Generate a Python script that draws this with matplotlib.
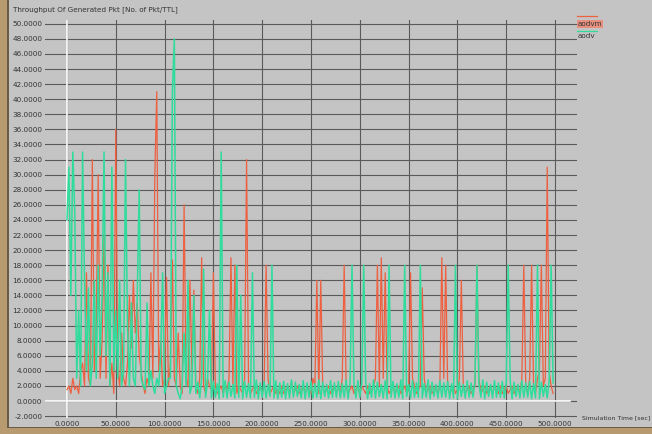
import numpy as np
from matplotlib import pyplot as plt
from matplotlib.patches import Rectangle

# 仿真时间每隔 2 秒一个采样点
step = 2.0
y_ticks = [-2, 0, 2, 4, 6, 8, 10, 12, 14, 16, 18, 20, 22, 24, 26, 28, 30,
           32, 34, 36, 38, 40, 42, 44, 46, 48, 50]
x_ticks = [0, 50, 100, 150, 200, 250, 300, 350, 400, 450, 500]

# aodv (绿色)
aodv = [
    24, 31, 14, 33, 25, 3, 12, 2, 33, 16,
    4, 15, 2, 5, 16, 3, 18, 6, 14, 33,
    6, 17, 2, 31, 4, 12, 3, 16, 2, 4,
    32, 10, 2, 13, 3, 2, 14, 28, 3, 2,
    1.5, 13, 2, 4, 2, 1, 3, 2, 6, 17,
    1, 2, 3, 3, 41, 48, 2, 1, 0.3, 2,
    9, 2, 16, 1, 2, 14, 1, 2.5, 0.4, 3,
    17.5, 0.5, 2.4, 12, 0.4, 2.6, 0.5, 2.3, 0.3, 33,
    0.5, 2.7, 0.4, 2.5, 0.6, 2.2, 0.4, 18, 0.5, 14,
    0.3, 2.6, 0.5, 2.3, 0.4, 17, 0.5, 2.8, 0.3, 2.4,
    0.5, 2.6, 0.4, 2.2, 0.6, 18, 0.4, 2.7, 0.3, 2.4,
    0.5, 2.6, 0.3, 2.3, 0.4, 2.8, 0.5, 2.5, 0.6, 2.2,
    0.4, 2.7, 0.3, 2.4, 0.5, 2.6, 0.4, 2.3, 0.5, 2.8,
    0.3, 2.5, 0.6, 2.2, 0.4, 2.7, 0.5, 2.4, 0.5, 2.6,
    0.4, 2.3, 0.5, 2.8, 0.3, 2.5, 18, 2.2, 0.4, 2.7,
    0.5, 2.4, 18, 2.6, 0.3, 2.3, 0.5, 2.8, 0.4, 2.5,
    0.6, 2.2, 0.4, 2.7, 0.3, 18, 0.5, 2.6, 0.4, 2.3,
    0.5, 2.8, 0.3, 18, 0.6, 2.2, 0.4, 2.7, 0.5, 2.4,
    0.5, 18, 0.4, 2.3, 0.5, 2.8, 0.3, 2.5, 0.6, 2.2,
    0.4, 2.7, 0.5, 2.4, 0.5, 2.6, 0.3, 2.3, 0.4, 18,
    0.3, 2.5, 0.6, 2.2, 0.4, 2.7, 0.5, 2.4, 0.5, 2.6,
    18, 2.3, 0.5, 2.8, 0.3, 2.5, 0.6, 2.2, 0.4, 2.7,
    0.5, 2.4, 0.5, 2.6, 0.4, 2.3, 18, 2.8, 0.3, 2.5,
    0.6, 2.2, 0.4, 2.7, 0.5, 2.4, 0.5, 2.6, 0.3, 2.3,
    0.4, 18, 0.3, 2.5, 0.6, 2.2, 0.4, 2.7, 18, 2.4,
]

# aodvm (红色)
aodvm = [
    1.5, 2, 1, 3, 1.5, 2, 1, 4, 5, 2,
    17, 3, 2, 32, 4, 10, 30, 3, 8, 22,
    3, 18, 2, 5, 1, 36, 4, 2, 9, 3,
    2, 5, 14, 7, 16, 9, 13, 6, 4, 2,
    1, 3, 2, 17, 3, 30, 41, 4, 8, 2,
    3, 16.4, 2, 5, 18.7, 3, 2, 9, 2, 1,
    26, 3, 2, 16, 4, 14.7, 2, 1, 3, 19,
    2, 1, 3, 2, 1.5, 17, 2, 1, 1.5, 2,
    1, 2, 1.5, 3, 19, 2, 18, 1, 2, 1.5,
    1, 3, 32, 2, 1, 1.5, 2, 1, 1.5, 2,
    1, 2, 18, 3, 1, 1.5, 2, 1, 1.5, 1,
    2, 1, 1.5, 2, 1, 2.5, 1, 1.5, 2, 1,
    1.5, 2, 1, 2, 1.5, 1, 3, 2, 16, 1,
    16, 2, 1, 1.5, 2, 1, 1.5, 2, 1, 2,
    1, 3, 18, 2, 1, 1.5, 2, 1, 1.5, 2,
    1, 2, 1.5, 1, 2, 1, 1.5, 2, 3, 18,
    2, 19, 3, 17, 2, 1, 1.5, 2, 1, 1.5,
    2, 1, 1.5, 2, 1, 1.5, 17, 3, 2, 1,
    1.5, 2, 15, 3, 1, 1.5, 2, 1, 1.5, 2,
    1, 2, 19, 3, 18, 2, 1, 1.5, 2, 1,
    1.5, 3, 16, 2, 1, 1.5, 2, 1, 1.5, 2,
    18, 3, 1, 1.5, 2, 1, 1.5, 2, 1, 2,
    1.5, 1, 2, 1, 1.5, 2, 1, 1.5, 2, 1,
    1.5, 2, 1, 3, 18, 2, 1, 3, 18, 2,
    1, 3, 4, 18, 2, 3, 31, 4, 2, 1,
]

t = np.arange(len(aodv)) * step

bg = '#c4c4c4'
fig = plt.figure(figsize=(6.52, 4.34), dpi=100)
fig.patch.set_facecolor(bg)

# 左边和下边的边框
fig.patches.append(Rectangle((0, 0), 7 / 652, 1, transform=fig.transFigure,
                             facecolor='#b89a70', edgecolor='none'))
fig.patches.append(Rectangle((0, 0), 1, 6 / 434, transform=fig.transFigure,
                             facecolor='#b89a70', edgecolor='none'))
fig.patches.append(Rectangle((7 / 652, 6 / 434), 1.5 / 652, 1, transform=fig.transFigure,
                             facecolor='#6b5a45', edgecolor='none'))
fig.patches.append(Rectangle((7 / 652, 6 / 434), 1, 1.5 / 434, transform=fig.transFigure,
                             facecolor='#6b5a45', edgecolor='none'))

ax = fig.add_axes([45 / 652, 1 - 418 / 434, 532 / 652, 398 / 434])
ax.set_facecolor(bg)
for s in ax.spines.values():
    s.set_visible(False)

ax.set_xlim(-22.5, 522.5)
ax.set_ylim(-2.25, 50.5)
ax.set_xticks(x_ticks)
ax.set_yticks(y_ticks)
ax.set_xticklabels(['%.4f' % v for v in x_ticks])
ax.set_yticklabels(['%.4f' % v for v in y_ticks])
ax.tick_params(length=0, labelsize=5.2, colors='#333333', pad=2)
ax.grid(True, color='#5a5a5a', linewidth=0.8)
ax.set_axisbelow(True)
ax.axvline(0, color='white', linewidth=1.2, zorder=1)
ax.axhline(0, xmax=(500 + 15 + 22.5) / 545, color='white', linewidth=1.2, zorder=1)

ax.plot(t, aodvm, color='#ee6040', linewidth=0.9, zorder=2)
ax.plot(t, aodv, color='#2fdc9c', linewidth=1.1, zorder=3)

fig.text(13 / 652, 1 - 10 / 434, 'Throughput Of Generated Pkt [No. of Pkt/TTL]',
         fontsize=5.2, color='#333333', va='center', ha='left')
fig.text(650 / 652, 1 - 418 / 434, 'Simulation Time [sec]',
         fontsize=4.5, color='#333333', va='center', ha='right')

# 图例
fig.lines.append(plt.Line2D([577 / 652, 597 / 652], [1 - 16 / 434, 1 - 16 / 434],
                            transform=fig.transFigure, color='#ee6040', linewidth=0.9))
fig.text(578 / 652, 1 - 24 / 434, 'aodvm', fontsize=5.2, color='#333333', va='center',
         bbox=dict(facecolor='#e89080', edgecolor='none', pad=0.5))
fig.lines.append(plt.Line2D([577 / 652, 597 / 652], [1 - 31 / 434, 1 - 31 / 434],
                            transform=fig.transFigure, color='#2fdc9c', linewidth=0.9))
fig.text(578 / 652, 1 - 36 / 434, 'aodv', fontsize=5.2, color='#333333', va='center')

plt.savefig('out.png', dpi=100, facecolor=fig.get_facecolor())
